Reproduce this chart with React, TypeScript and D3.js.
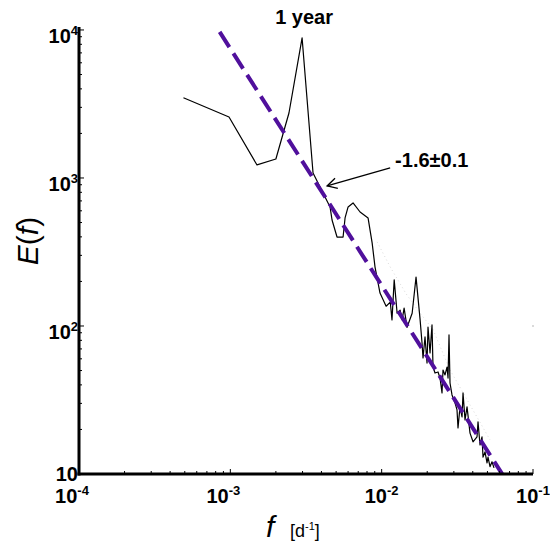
import React from "react";
import * as d3 from "d3";

// Spectrum E(f): frequency [1/day] and energy
const freq = [
  0.00049, 0.00098, 0.0015, 0.002, 0.00244, 0.00298, 0.00352, 0.00456, 0.0047, 0.00507,
  0.00556, 0.00573, 0.006, 0.00647, 0.0072, 0.00813, 0.00865, 0.00904, 0.00975, 0.0107,
  0.0114, 0.0117, 0.0121, 0.01265, 0.01324, 0.01365, 0.01407, 0.01472, 0.0159, 0.01687,
  0.01795, 0.01848, 0.01876, 0.01934, 0.01994, 0.02024, 0.02087, 0.02151, 0.02184, 0.02252,
  0.02357, 0.0243, 0.02505, 0.02543, 0.02622, 0.02703, 0.02745, 0.02786, 0.02829, 0.02916,
  0.03052, 0.03147, 0.03195, 0.03294, 0.03396, 0.03448, 0.03555, 0.03665, 0.03836, 0.04015,
  0.04266, 0.04332, 0.04466, 0.04603, 0.04675, 0.04819, 0.04967, 0.05043, 0.05199, 0.05359,
  0.05524,
];
const energy = [
  3480, 2580, 1225, 1343, 2748, 8830, 1081, 637, 520, 399,
  399, 537, 637, 678, 589, 537, 364, 250, 167, 136,
  145, 110, 205, 122, 128, 110, 132, 98, 122, 214,
  110, 76.8, 60.8, 84.3, 56.2, 98.4, 65.7, 101.6, 52.8, 48.1,
  48.9, 44.5, 35.3, 50.4, 46.7, 52.8, 44.5, 87.0, 41.2, 34.2,
  30.2, 27.1, 20.5, 28.4, 24.3, 35.3, 23.2, 28.4, 18.9, 16.5,
  17.8, 22.5, 15.7, 17.8, 13.0, 14.1, 11.9, 13.0, 11.2, 12.1,
  11.0,
];

// Faint secondary (dotted) spectrum
const faintFreq = [0.00933, 0.0114, 0.0145, 0.01795, 0.0218, 0.0283, 0.052];
const faintEnergy = [370, 250, 165, 122, 95, 50.5, 17];
const strayFreq = [0.1];
const strayEnergy = [100];

// Power-law fit  E = 10^FIT_LOGA * f^FIT_SLOPE
const FIT_SLOPE = -1.6;
const FIT_LOGA = -0.926;
const fitFreq = [0.00085, 0.0625];

// Axis ticks (exponents of 10)
const xExponents = [-4, -3, -2, -1];
const yExponents = [1, 2, 3, 4];

// Annotations
const yearLabel = { f: 0.00307, e: 10970, text: "1 year" };
const slopeLabel = { f: 0.01227, e: 1186, text: "-1.6±0.1" };
const arrowFrom = { f: 0.01138, e: 1169 };
const arrowTo = { f: 0.00436, e: 883 };

const W = 550;
const H = 542;
const FONT = "'Liberation Sans', Arial, Helvetica, sans-serif";

export default function App() {
  const x = d3.scaleLog().domain([1e-4, 1e-1]).range([79, 533]);
  const y = d3.scaleLog().domain([10, Math.pow(10, 4.02)]).range([474, 27]);
  const [x0, x1] = x.range();
  const [y0, y1] = y.range();

  const line = d3
    .line<[number, number]>()
    .x((d) => x(d[0]))
    .y((d) => y(d[1]));

  const mainPts = freq.map((f, i) => [f, energy[i]] as [number, number]);
  const faintPts = faintFreq.map((f, i) => [f, faintEnergy[i]] as [number, number]);
  const fitPts = fitFreq.map((f) => [f, Math.pow(10, FIT_LOGA) * Math.pow(f, FIT_SLOPE)] as [number, number]);

  const xMinor: number[] = [];
  for (let e = -4; e < -1; e++) for (let k = 2; k <= 9; k++) xMinor.push(k * Math.pow(10, e));
  const yMinor: number[] = [];
  for (let e = 1; e < 4; e++) for (let k = 2; k <= 9; k++) {
    const v = k * Math.pow(10, e);
    if (v <= y.domain()[1]) yMinor.push(v);
  }

  // arrow geometry
  const ax0 = x(arrowFrom.f), ay0 = y(arrowFrom.e);
  const ax1 = x(arrowTo.f), ay1 = y(arrowTo.e);
  const ang = Math.atan2(ay1 - ay0, ax1 - ax0);
  const hl = 11;
  const ha = (28 * Math.PI) / 180;
  const head = `M${ax1 - hl * Math.cos(ang - ha)},${ay1 - hl * Math.sin(ang - ha)} L${ax1},${ay1} L${ax1 - hl * Math.cos(ang + ha)},${ay1 - hl * Math.sin(ang + ha)}`;

  return (
    <svg
      width={W}
      height={H}
      style={{ position: "absolute", left: 0, top: 0, background: "#fff" }}
      fontFamily={FONT}
    >
      <rect width={W} height={H} fill="#fff" />

      {/* faint dotted series */}
      <path d={line(faintPts) || ""} fill="none" stroke="#cfcfcf" strokeWidth={0.8} strokeDasharray="1 3" />
      {strayFreq.map((f, i) => (
        <circle key={i} cx={x(f)} cy={y(strayEnergy[i])} r={0.8} fill="#aaa" />
      ))}

      {/* main spectrum */}
      <path d={line(mainPts) || ""} fill="none" stroke="#000" strokeWidth={1.2} strokeLinejoin="round" />

      {/* fit */}
      <path d={line(fitPts) || ""} fill="none" stroke="#50109c" strokeWidth={4} strokeDasharray="18 7.5" />

      {/* axes */}
      <line x1={x0} x2={x0} y1={y1} y2={y0 + 1.5} stroke="#000" strokeWidth={3} />
      <line x1={x0 - 1.5} x2={x1} y1={y0} y2={y0} stroke="#000" strokeWidth={3} />

      {/* x ticks */}
      {xExponents.map((e) => (
        <line key={"xm" + e} x1={x(Math.pow(10, e))} x2={x(Math.pow(10, e))} y1={y0} y2={y0 - 5} stroke="#000" strokeWidth={1} />
      ))}
      {xMinor.map((v, i) => (
        <line key={"xn" + i} x1={x(v)} x2={x(v)} y1={y0} y2={y0 - 3} stroke="#000" strokeWidth={1} />
      ))}
      {/* y ticks */}
      {yExponents.map((e) => (
        <line key={"ym" + e} x1={x0} x2={x0 + 5} y1={y(Math.pow(10, e))} y2={y(Math.pow(10, e))} stroke="#000" strokeWidth={1} />
      ))}
      {yMinor.map((v, i) => (
        <line key={"yn" + i} x1={x0} x2={x0 + 3} y1={y(v)} y2={y(v)} stroke="#000" strokeWidth={1} />
      ))}

      {/* x tick labels */}
      {xExponents.map((e) => (
        <text key={"xl" + e} x={x(Math.pow(10, e)) - (e < -2 ? 7 : 0)} y={y0 + 29} textAnchor="middle" fontWeight="bold" fontSize={20}>
          10
          <tspan dy={-8} fontSize={13}>{e}</tspan>
        </text>
      ))}
      {/* y tick labels */}
      {yExponents.map((e) => (
        <text key={"yl" + e} x={78} y={y(Math.pow(10, e)) + (e === 1 ? 7 : 13)} textAnchor="end" fontWeight="bold" fontSize={20}>
          10
          {e !== 1 && <tspan dy={-8} fontSize={13}>{e}</tspan>}
        </text>
      ))}

      {/* annotations */}
      <text x={x(yearLabel.f)} y={y(yearLabel.e)} textAnchor="middle" fontWeight="bold" fontSize={20}>
        {yearLabel.text}
      </text>
      <text x={x(slopeLabel.f)} y={y(slopeLabel.e)} fontWeight="bold" fontSize={20}>
        {slopeLabel.text}
      </text>
      <line x1={ax0} y1={ay0} x2={ax1} y2={ay1} stroke="#000" strokeWidth={1.3} />
      <path d={head} fill="none" stroke="#000" strokeWidth={1.3} />

      {/* axis titles */}
      <text transform="translate(38,241) rotate(-90)" textAnchor="middle" fontSize={30}>
        <tspan fontStyle="italic">E</tspan>(<tspan fontStyle="italic">f</tspan>)
      </text>
      <text x={266} y={537} fontSize={30} fontStyle="italic">f</text>
      <text x={290} y={537} fontSize={18}>
        [d<tspan dy={-7} fontSize={11}>-1</tspan>
        <tspan dy={7}>]</tspan>
      </text>
    </svg>
  );
}
